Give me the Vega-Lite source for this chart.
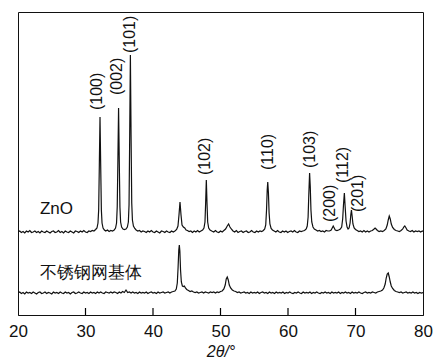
{
"$schema":"https://vega.github.io/schema/vega-lite/v6.json",
"width":405,"height":303,
"autosize":{"type":"none"},
"padding":{"left":18,"top":12,"right":20,"bottom":44},
"background":"white",
"config":{"view":{"stroke":"#111","strokeWidth":1},"font":"Liberation Sans"},
"datasets":{
"zno":[
{"x":20.0,"y":83},{"x":20.25,"y":84},{"x":20.5,"y":82.5},{"x":20.75,"y":83.5},{"x":21.0,"y":82},{"x":21.25,"y":84},{"x":21.5,"y":83},{"x":21.75,"y":84.5},{"x":22.0,"y":82.5},{"x":22.25,"y":83},{"x":22.5,"y":84},{"x":22.75,"y":82.5},{"x":23.0,"y":83.5},{"x":23.25,"y":82},{"x":23.5,"y":84},{"x":23.75,"y":83},{"x":24.0,"y":82.5},{"x":24.25,"y":84},{"x":24.5,"y":83},{"x":24.75,"y":82},{"x":25.0,"y":83.5},{"x":25.25,"y":84},{"x":25.5,"y":82.5},{"x":25.75,"y":83},{"x":26.0,"y":84.5},{"x":26.25,"y":82.5},{"x":26.5,"y":83.5},{"x":26.75,"y":82},{"x":27.0,"y":84},{"x":27.25,"y":83},{"x":27.5,"y":82.5},{"x":27.75,"y":84},{"x":28.0,"y":83},{"x":28.25,"y":82},{"x":28.5,"y":84},{"x":28.75,"y":83.5},{"x":29.0,"y":82.5},{"x":29.25,"y":84},{"x":29.5,"y":83},{"x":29.75,"y":84.5},{"x":30.0,"y":83},{"x":30.25,"y":82.5},{"x":30.5,"y":84},{"x":30.75,"y":83.5},{"x":31.0,"y":84.5},{"x":31.25,"y":84},{"x":31.5,"y":85.5},{"x":31.7,"y":87},{"x":31.85,"y":92},{"x":31.95,"y":105},{"x":32.05,"y":150},{"x":32.15,"y":198},{"x":32.25,"y":150},{"x":32.35,"y":105},{"x":32.45,"y":92},{"x":32.6,"y":87},{"x":32.8,"y":85},{"x":33.0,"y":84},{"x":33.25,"y":85},{"x":33.5,"y":83.5},{"x":33.75,"y":84.5},{"x":34.0,"y":84},{"x":34.25,"y":85},{"x":34.45,"y":87},{"x":34.6,"y":92},{"x":34.7,"y":108},{"x":34.8,"y":155},{"x":34.9,"y":207},{"x":35.0,"y":155},{"x":35.1,"y":108},{"x":35.2,"y":93},{"x":35.35,"y":88},{"x":35.55,"y":86},{"x":35.75,"y":85.5},{"x":36.0,"y":86},{"x":36.2,"y":88},{"x":36.35,"y":93},{"x":36.45,"y":110},{"x":36.55,"y":180},{"x":36.65,"y":260},{"x":36.75,"y":180},{"x":36.85,"y":112},{"x":36.95,"y":95},{"x":37.1,"y":89},{"x":37.3,"y":86.5},{"x":37.5,"y":85},{"x":37.75,"y":84},{"x":38.0,"y":84.5},{"x":38.25,"y":83},{"x":38.5,"y":84},{"x":38.75,"y":83.5},{"x":39.0,"y":82.5},{"x":39.25,"y":84},{"x":39.5,"y":83},{"x":39.75,"y":84.5},{"x":40.0,"y":83},{"x":40.25,"y":82.5},{"x":40.5,"y":84},{"x":40.75,"y":83},{"x":41.0,"y":82},{"x":41.25,"y":84},{"x":41.5,"y":83.5},{"x":41.75,"y":82.5},{"x":42.0,"y":84},{"x":42.25,"y":83},{"x":42.5,"y":82.5},{"x":42.75,"y":84},{"x":43.0,"y":83},{"x":43.25,"y":84},{"x":43.5,"y":85.5},{"x":43.7,"y":89},{"x":43.85,"y":100},{"x":44.0,"y":113},{"x":44.15,"y":100},{"x":44.3,"y":90},{"x":44.5,"y":88},{"x":44.7,"y":87},{"x":44.9,"y":85},{"x":45.1,"y":84.5},{"x":45.35,"y":83.5},{"x":45.6,"y":84},{"x":45.85,"y":82.5},{"x":46.1,"y":84},{"x":46.35,"y":83},{"x":46.6,"y":84.5},{"x":46.85,"y":83},{"x":47.1,"y":84},{"x":47.35,"y":85},{"x":47.55,"y":87},{"x":47.7,"y":93},{"x":47.8,"y":112},{"x":47.9,"y":135},{"x":48.0,"y":112},{"x":48.1,"y":93},{"x":48.25,"y":87},{"x":48.45,"y":85},{"x":48.7,"y":84},{"x":49.0,"y":83},{"x":49.25,"y":84.5},{"x":49.5,"y":83},{"x":49.75,"y":82.5},{"x":50.0,"y":84},{"x":50.25,"y":83},{"x":50.5,"y":84.5},{"x":50.75,"y":86},{"x":51.0,"y":89},{"x":51.2,"y":91},{"x":51.4,"y":88},{"x":51.6,"y":86},{"x":51.85,"y":84},{"x":52.1,"y":83},{"x":52.35,"y":84.5},{"x":52.6,"y":82.5},{"x":52.85,"y":83.5},{"x":53.1,"y":84},{"x":53.35,"y":82.5},{"x":53.6,"y":83.5},{"x":53.85,"y":84},{"x":54.1,"y":82.5},{"x":54.35,"y":83},{"x":54.6,"y":84.5},{"x":54.85,"y":83},{"x":55.1,"y":82.5},{"x":55.35,"y":84},{"x":55.6,"y":83},{"x":55.85,"y":84},{"x":56.1,"y":83.5},{"x":56.35,"y":84.5},{"x":56.55,"y":86},{"x":56.7,"y":90},{"x":56.82,"y":105},{"x":56.92,"y":125},{"x":57.0,"y":133},{"x":57.1,"y":122},{"x":57.2,"y":102},{"x":57.32,"y":91},{"x":57.5,"y":86.5},{"x":57.7,"y":85},{"x":57.95,"y":84},{"x":58.2,"y":83},{"x":58.45,"y":84.5},{"x":58.7,"y":83},{"x":58.95,"y":82.5},{"x":59.2,"y":84},{"x":59.45,"y":83},{"x":59.7,"y":84},{"x":59.95,"y":82.5},{"x":60.2,"y":83.5},{"x":60.45,"y":84},{"x":60.7,"y":83},{"x":60.95,"y":84.5},{"x":61.2,"y":83},{"x":61.45,"y":82.5},{"x":61.7,"y":84},{"x":61.95,"y":83.5},{"x":62.2,"y":84},{"x":62.45,"y":84.5},{"x":62.7,"y":86},{"x":62.85,"y":89},{"x":62.98,"y":98},{"x":63.08,"y":120},{"x":63.2,"y":142},{"x":63.3,"y":128},{"x":63.4,"y":105},{"x":63.52,"y":93},{"x":63.7,"y":88},{"x":63.9,"y":86},{"x":64.15,"y":85},{"x":64.4,"y":84},{"x":64.65,"y":84.5},{"x":64.9,"y":83.5},{"x":65.15,"y":84},{"x":65.4,"y":83},{"x":65.65,"y":84.5},{"x":65.9,"y":84},{"x":66.15,"y":84},{"x":66.4,"y":85},{"x":66.55,"y":87},{"x":66.7,"y":89},{"x":66.85,"y":87},{"x":67.0,"y":85},{"x":67.25,"y":84.5},{"x":67.5,"y":85},{"x":67.75,"y":86},{"x":67.95,"y":88},{"x":68.1,"y":96},{"x":68.22,"y":110},{"x":68.35,"y":122},{"x":68.47,"y":108},{"x":68.6,"y":94},{"x":68.75,"y":88},{"x":68.9,"y":86},{"x":69.05,"y":87},{"x":69.2,"y":92},{"x":69.3,"y":100},{"x":69.4,"y":105},{"x":69.5,"y":99},{"x":69.62,"y":91},{"x":69.8,"y":87},{"x":70.0,"y":85.5},{"x":70.25,"y":84.5},{"x":70.5,"y":83.5},{"x":70.75,"y":84},{"x":71.0,"y":83},{"x":71.25,"y":84.5},{"x":71.5,"y":83},{"x":71.75,"y":84},{"x":72.0,"y":83},{"x":72.25,"y":84},{"x":72.5,"y":84.5},{"x":72.75,"y":86},{"x":72.9,"y":87},{"x":73.05,"y":86},{"x":73.25,"y":84.5},{"x":73.5,"y":83.5},{"x":73.75,"y":84},{"x":74.0,"y":83.5},{"x":74.25,"y":84.5},{"x":74.5,"y":86},{"x":74.7,"y":90},{"x":74.85,"y":95},{"x":75.0,"y":99},{"x":75.15,"y":96},{"x":75.3,"y":91},{"x":75.5,"y":87.5},{"x":75.75,"y":85.5},{"x":76.0,"y":84.5},{"x":76.25,"y":84},{"x":76.5,"y":83.5},{"x":76.75,"y":84.5},{"x":77.0,"y":86},{"x":77.15,"y":88},{"x":77.3,"y":89},{"x":77.45,"y":87.5},{"x":77.65,"y":85},{"x":77.9,"y":84},{"x":78.15,"y":83.5},{"x":78.4,"y":84.5},{"x":78.65,"y":83},{"x":78.9,"y":84},{"x":79.15,"y":83.5},{"x":79.4,"y":84},{"x":79.65,"y":83},{"x":79.9,"y":84},{"x":80.0,"y":83.5}
],
"sub":[
{"x":20.0,"y":22},{"x":20.25,"y":23},{"x":20.5,"y":21.5},{"x":20.75,"y":22.5},{"x":21.0,"y":21},{"x":21.25,"y":23},{"x":21.5,"y":22},{"x":21.75,"y":22.5},{"x":22.0,"y":21.5},{"x":22.25,"y":23},{"x":22.5,"y":22},{"x":22.75,"y":21},{"x":23.0,"y":22.5},{"x":23.25,"y":23},{"x":23.5,"y":21.5},{"x":23.75,"y":22},{"x":24.0,"y":23},{"x":24.25,"y":21.5},{"x":24.5,"y":22.5},{"x":24.75,"y":22},{"x":25.0,"y":21},{"x":25.25,"y":23},{"x":25.5,"y":22},{"x":25.75,"y":22.5},{"x":26.0,"y":21.5},{"x":26.25,"y":23},{"x":26.5,"y":22},{"x":26.75,"y":21.5},{"x":27.0,"y":23},{"x":27.25,"y":22},{"x":27.5,"y":22.5},{"x":27.75,"y":21},{"x":28.0,"y":22.5},{"x":28.25,"y":23},{"x":28.5,"y":21.5},{"x":28.75,"y":22},{"x":29.0,"y":23},{"x":29.25,"y":22},{"x":29.5,"y":21.5},{"x":29.75,"y":23},{"x":30.0,"y":22},{"x":30.25,"y":22.5},{"x":30.5,"y":21.5},{"x":30.75,"y":23},{"x":31.0,"y":22},{"x":31.25,"y":22.5},{"x":31.5,"y":21.5},{"x":31.75,"y":23},{"x":32.0,"y":22},{"x":32.25,"y":23},{"x":32.5,"y":22},{"x":32.75,"y":21.5},{"x":33.0,"y":23},{"x":33.25,"y":22.5},{"x":33.5,"y":22},{"x":33.75,"y":23},{"x":34.0,"y":22},{"x":34.25,"y":23},{"x":34.5,"y":22.5},{"x":34.75,"y":21.5},{"x":35.0,"y":23},{"x":35.25,"y":22},{"x":35.5,"y":23.5},{"x":35.75,"y":22.5},{"x":36.0,"y":25},{"x":36.25,"y":22.5},{"x":36.5,"y":23},{"x":36.75,"y":22},{"x":37.0,"y":23},{"x":37.25,"y":22},{"x":37.5,"y":22.5},{"x":37.75,"y":21.5},{"x":38.0,"y":23},{"x":38.25,"y":22},{"x":38.5,"y":22.5},{"x":38.75,"y":22},{"x":39.0,"y":23},{"x":39.25,"y":21.5},{"x":39.5,"y":22.5},{"x":39.75,"y":23},{"x":40.0,"y":22},{"x":40.25,"y":22.5},{"x":40.5,"y":21.5},{"x":40.75,"y":23},{"x":41.0,"y":22},{"x":41.25,"y":22.5},{"x":41.5,"y":23},{"x":41.75,"y":22},{"x":42.0,"y":22.5},{"x":42.25,"y":23},{"x":42.5,"y":22},{"x":42.75,"y":23},{"x":43.0,"y":23.5},{"x":43.25,"y":24},{"x":43.45,"y":26},{"x":43.6,"y":32},{"x":43.72,"y":48},{"x":43.82,"y":65},{"x":43.9,"y":70},{"x":43.98,"y":64},{"x":44.08,"y":45},{"x":44.2,"y":33},{"x":44.35,"y":29},{"x":44.5,"y":28.5},{"x":44.65,"y":29},{"x":44.8,"y":27},{"x":45.0,"y":25.5},{"x":45.25,"y":24.5},{"x":45.5,"y":23.5},{"x":45.75,"y":24},{"x":46.0,"y":23},{"x":46.25,"y":22.5},{"x":46.5,"y":23},{"x":46.75,"y":22},{"x":47.0,"y":22.5},{"x":47.25,"y":23},{"x":47.5,"y":22},{"x":47.75,"y":23},{"x":48.0,"y":22.5},{"x":48.25,"y":22},{"x":48.5,"y":23},{"x":48.75,"y":22.5},{"x":49.0,"y":23},{"x":49.25,"y":22},{"x":49.5,"y":23},{"x":49.75,"y":22.5},{"x":50.0,"y":23.5},{"x":50.25,"y":24},{"x":50.5,"y":26},{"x":50.7,"y":30},{"x":50.85,"y":36},{"x":51.0,"y":38},{"x":51.15,"y":35},{"x":51.3,"y":30},{"x":51.5,"y":27},{"x":51.75,"y":25},{"x":52.0,"y":24},{"x":52.25,"y":23.5},{"x":52.5,"y":22.5},{"x":52.75,"y":23},{"x":53.0,"y":22},{"x":53.25,"y":22.5},{"x":53.5,"y":23},{"x":53.75,"y":22},{"x":54.0,"y":22.5},{"x":54.25,"y":21.5},{"x":54.5,"y":23},{"x":54.75,"y":22},{"x":55.0,"y":22.5},{"x":55.25,"y":22},{"x":55.5,"y":23},{"x":55.75,"y":21.5},{"x":56.0,"y":22.5},{"x":56.25,"y":23},{"x":56.5,"y":22},{"x":56.75,"y":22.5},{"x":57.0,"y":21.5},{"x":57.25,"y":23},{"x":57.5,"y":22},{"x":57.75,"y":22.5},{"x":58.0,"y":21.5},{"x":58.25,"y":23},{"x":58.5,"y":22},{"x":58.75,"y":22.5},{"x":59.0,"y":22},{"x":59.25,"y":23},{"x":59.5,"y":21.5},{"x":59.75,"y":22.5},{"x":60.0,"y":22},{"x":60.25,"y":23},{"x":60.5,"y":22},{"x":60.75,"y":21.5},{"x":61.0,"y":22.5},{"x":61.25,"y":22},{"x":61.5,"y":23},{"x":61.75,"y":22},{"x":62.0,"y":21.5},{"x":62.25,"y":23},{"x":62.5,"y":22},{"x":62.75,"y":22.5},{"x":63.0,"y":22},{"x":63.25,"y":23},{"x":63.5,"y":21.5},{"x":63.75,"y":22.5},{"x":64.0,"y":22},{"x":64.25,"y":23},{"x":64.5,"y":22},{"x":64.75,"y":21.5},{"x":65.0,"y":22.5},{"x":65.25,"y":22},{"x":65.5,"y":23},{"x":65.75,"y":22},{"x":66.0,"y":22.5},{"x":66.25,"y":21.5},{"x":66.5,"y":23},{"x":66.75,"y":22},{"x":67.0,"y":22.5},{"x":67.25,"y":22},{"x":67.5,"y":23},{"x":67.75,"y":21.5},{"x":68.0,"y":22.5},{"x":68.25,"y":22},{"x":68.5,"y":23},{"x":68.75,"y":22},{"x":69.0,"y":22.5},{"x":69.25,"y":21.5},{"x":69.5,"y":23},{"x":69.75,"y":22},{"x":70.0,"y":22.5},{"x":70.25,"y":22},{"x":70.5,"y":23},{"x":70.75,"y":22},{"x":71.0,"y":21.5},{"x":71.25,"y":22.5},{"x":71.5,"y":23},{"x":71.75,"y":22},{"x":72.0,"y":22.5},{"x":72.25,"y":22},{"x":72.5,"y":23},{"x":72.75,"y":22.5},{"x":73.0,"y":22},{"x":73.25,"y":23},{"x":73.5,"y":23.5},{"x":73.75,"y":24},{"x":74.0,"y":25},{"x":74.2,"y":27},{"x":74.4,"y":31},{"x":74.55,"y":37},{"x":74.7,"y":41},{"x":74.85,"y":42},{"x":75.0,"y":38},{"x":75.15,"y":33},{"x":75.3,"y":29},{"x":75.5,"y":26.5},{"x":75.75,"y":24.5},{"x":76.0,"y":23.5},{"x":76.25,"y":23},{"x":76.5,"y":22.5},{"x":76.75,"y":23},{"x":77.0,"y":22},{"x":77.25,"y":22.5},{"x":77.5,"y":23},{"x":77.75,"y":22},{"x":78.0,"y":22.5},{"x":78.25,"y":22},{"x":78.5,"y":23},{"x":78.75,"y":22},{"x":79.0,"y":22.5},{"x":79.25,"y":21.5},{"x":79.5,"y":22.5},{"x":79.75,"y":22},{"x":80.0,"y":22.5}
],
"peaks":[
{"t":"(100)","x":31.7,"y":205},{"t":"(002)","x":34.6,"y":220},{"t":"(101)","x":36.6,"y":262},{"t":"(102)","x":47.7,"y":140},{"t":"(110)","x":57.0,"y":145},{"t":"(103)","x":63.3,"y":147},{"t":"(200)","x":66.2,"y":93},{"t":"(112)","x":68.15,"y":132},{"t":"(201)","x":70.3,"y":103}
],
"names":[
{"t":"ZnO","x":23.25,"y":106,"f":"Liberation Sans"},{"t":"不锈钢网基体","x":23.25,"y":42,"f":"Noto Sans CJK SC"}
],
"ticks":[
{"x":30,"y0":0,"y1":7},{"x":40,"y0":0,"y1":7},{"x":50,"y0":0,"y1":7},{"x":60,"y0":0,"y1":7},{"x":70,"y0":0,"y1":7}
]
},
"layer":[
{"data":{"name":"zno"},"mark":{"type":"line","stroke":"#111","strokeWidth":1.2,"clip":true},
"encoding":{"x":{"field":"x","type":"quantitative","scale":{"domain":[20,80],"nice":false,"zero":false},
"axis":{"values":[20,30,40,50,60,70,80],"title":"2θ/°","titleFontStyle":"italic","titleFontWeight":"normal","titleFontSize":16,"titleFont":"Liberation Sans","titleColor":"#111","titlePadding":4,"labelFontSize":17,"labelColor":"#111","labelFont":"Liberation Sans","ticks":false,"domainColor":"#111","labelPadding":8,"grid":false,"labelFlush":false}},
"y":{"field":"y","type":"quantitative","scale":{"domain":[0,303],"nice":false,"zero":false},"axis":null}}},
{"data":{"name":"sub"},"mark":{"type":"line","stroke":"#111","strokeWidth":1.2,"clip":true},
"encoding":{"x":{"field":"x","type":"quantitative"},"y":{"field":"y","type":"quantitative"}}},
{"data":{"name":"ticks"},"mark":{"type":"rule","stroke":"#000","strokeWidth":1.2},
"encoding":{"x":{"field":"x","type":"quantitative"},"y":{"field":"y0","type":"quantitative"},"y2":{"field":"y1"}}},
{"data":{"name":"peaks"},"mark":{"type":"text","angle":270,"align":"left","baseline":"middle","fontSize":16,"font":"Liberation Sans","color":"#111"},
"encoding":{"x":{"field":"x","type":"quantitative"},"y":{"field":"y","type":"quantitative"},"text":{"field":"t"}}},
{"data":{"name":"names"},"mark":{"type":"text","align":"left","baseline":"middle","fontSize":17,"color":"#111"},
"encoding":{"x":{"field":"x","type":"quantitative"},"y":{"field":"y","type":"quantitative"},"text":{"field":"t"},"font":{"field":"f","type":"nominal","scale":null}}}
]
}
